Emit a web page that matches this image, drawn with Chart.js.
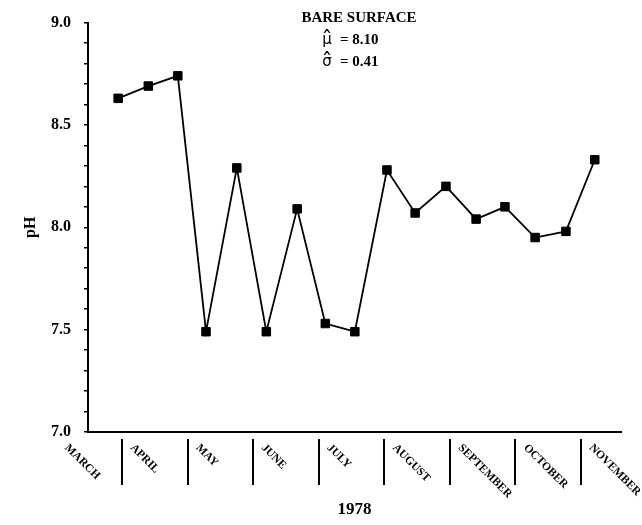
<!DOCTYPE html>
<html>
<head>
<meta charset="utf-8">
<script src="https://cdn.jsdelivr.net/npm/chart.js@4"></script>
<style>
  html, body { margin: 0; padding: 0; background: #fff; }
  canvas { display: block; }
</style>
</head>
<body>
<canvas id="c" width="642" height="525"></canvas>
<script>
/* Monate (Zellen unter der x-Achse) */
const months = ['MARCH', 'APRIL', 'MAY', 'JUNE', 'JULY', 'AUGUST', 'SEPTEMBER', 'OCTOBER', 'NOVEMBER'];
/* Probenahme-Zeitpunkt in Monaten ab 1. März (aus dem Bild geschätzt) */
const sampleTimes = [0.94, 1.40, 1.85, 2.28, 2.75, 3.20, 3.67, 4.10, 4.55,
                     5.04, 5.47, 5.94, 6.40, 6.84, 7.30, 7.77, 8.21];
/* pH-Werte */
const phValues = [8.63, 8.69, 8.74, 7.49, 8.29, 7.49, 8.09, 7.53, 7.49,
                  8.28, 8.07, 8.20, 8.04, 8.10, 7.95, 7.98, 8.33];
const yMin = 7.0, yMax = 9.0, yStep = 0.1, yLabelStep = 0.5;
const xMin = 0.48, xMax = 8.61;
const yearLabel = '1978';
const seriesTitle = 'BARE SURFACE';
const statLines = [['\u03bc', '= 8.10'], ['\u03c3', '= 0.41']];

const SERIF = '"Liberation Serif", "DejaVu Serif", serif';

/* Monatsnamen schräg + Trennstriche unter der Achse, Kennwerte oben */
const decor = {
  id: 'decor',
  afterDraw(chart) {
    const { ctx, scales: { x }, chartArea } = chart;
    ctx.save();
    ctx.strokeStyle = '#000';
    ctx.lineWidth = 2;
    for (let k = 1; k < months.length; k++) {
      const px = Math.round(x.getPixelForValue(k));
      ctx.beginPath();
      ctx.moveTo(px, chartArea.bottom + 7);
      ctx.lineTo(px, chartArea.bottom + 53);
      ctx.stroke();
    }
    ctx.fillStyle = '#000';
    ctx.font = 'bold 11.5px ' + SERIF;
    ctx.textAlign = 'left';
    ctx.textBaseline = 'top';
    months.forEach((m, i) => {
      const px = x.getPixelForValue(i);
      ctx.save();
      ctx.translate(px + 14, chartArea.bottom + 10);
      ctx.rotate(Math.PI / 4);
      ctx.fillText(m, 0, 0);
      ctx.restore();
    });

    ctx.textBaseline = 'alphabetic';
    ctx.textAlign = 'center';
    ctx.font = 'bold 15px ' + SERIF;
    ctx.fillText(seriesTitle, 359, 22);
    statLines.forEach(([sym, val], i) => {
      const by = 44 + i * 22;
      ctx.textAlign = 'center';
      ctx.font = '15px "DejaVu Sans", sans-serif';
      ctx.fillText(sym, 327, by);
      /* Dach über dem Symbol */
      ctx.font = '22px "DejaVu Sans", sans-serif';
      ctx.fillText('\u02c6', 327, by + 2);
      ctx.textAlign = 'left';
      ctx.font = 'bold 15px ' + SERIF;
      ctx.fillText(val, 340, by);
    });
    ctx.restore();
  }
};

new Chart(document.getElementById('c'), {
  type: 'line',
  data: {
    datasets: [{
      label: 'pH',
      data: sampleTimes.map((t, i) => ({ x: t, y: phValues[i] })),
      borderColor: '#000', borderWidth: 1.8,
      pointStyle: 'rect', pointRadius: 6, pointBackgroundColor: '#000',
      pointBorderColor: '#000', pointBorderWidth: 1,
      tension: 0, fill: false,
    }],
  },
  options: {
    responsive: false, animation: false,
    layout: { padding: { top: 20, right: 21, left: 0, bottom: 0 } },
    plugins: { legend: { display: false }, tooltip: { enabled: false } },
    scales: {
      x: {
        type: 'linear', min: xMin, max: xMax,
        grid: { display: false },
        border: { display: true, color: '#000', width: 2 },
        ticks: { display: false },
        title: { display: true, text: yearLabel, color: '#000',
                 font: { family: SERIF, size: 17, weight: 'bold' }, padding: { top: 0, bottom: 5 } },
        afterFit: s => { s.height = 93; },
      },
      y: {
        min: yMin, max: yMax,
        grid: { drawOnChartArea: false, drawTicks: true, tickLength: 4, color: '#000', lineWidth: 1.5 },
        border: { display: true, color: '#000', width: 2 },
        ticks: {
          stepSize: yStep, autoSkip: false, color: '#000', padding: 13,
          font: { family: SERIF, size: 16, weight: 'bold' },
          callback: v => Math.abs(v / yLabelStep - Math.round(v / yLabelStep)) < 1e-6 ? v.toFixed(1) : '',
        },
        title: { display: true, text: 'pH', color: '#000',
                 font: { family: SERIF, size: 16, weight: 'bold' }, padding: { top: 21, bottom: 0 } },
        afterFit: s => { s.width = 88; },
      },
    },
  },
  plugins: [decor],
});
</script>
</body>
</html>
